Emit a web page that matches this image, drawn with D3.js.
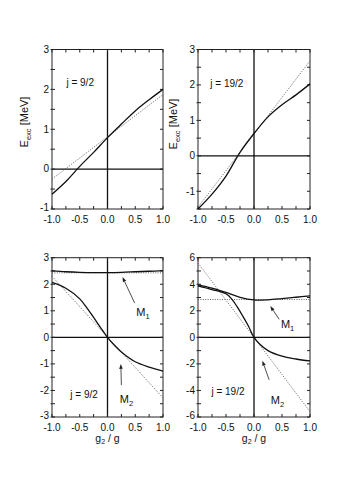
<!DOCTYPE html>
<html><head><meta charset="utf-8">
<script src="https://cdn.jsdelivr.net/npm/d3@7"></script>
<style>body{margin:0;background:#fff}svg{display:block}text{font-family:"Liberation Sans",Arial,sans-serif;fill:#111}</style>
</head><body><svg id="c" width="344" height="491"></svg>
<script>
// ---- data ----
const xs = [-1,-0.75,-0.5,-0.25,0,0.25,0.5,0.75,1];
const xTicks = [-1.0,-0.5,0.0,0.5,1.0];
// panel A: j = 9/2, top
const aSolid = [-0.63,-0.31,0.07,0.42,0.79,1.13,1.46,1.74,2.0];
const aDotX = [-1,1], aDot = [-0.25,1.87];
// panel B: j = 19/2, top
const bSolid = [-1.5,-1.08,-0.57,0.1,0.63,1.1,1.44,1.72,2.03];
const bDotX = [-1,1], bDot = [-1.45,2.68];
// panel C: j = 9/2, bottom
const cM1 = [2.50,2.47,2.45,2.44,2.44,2.45,2.47,2.49,2.51];
const cM1DotX = [-1,1], cM1Dot = [2.43,2.43];
const cM2X = [-1,-0.75,-0.5,-0.375,-0.25,-0.125,0,0.125,0.25,0.5,0.75,1];
const cM2 = [2.07,1.85,1.45,1.12,0.75,0.37,0,-0.3,-0.55,-0.92,-1.12,-1.27];
const cM2DotX = [-1,1], cM2Dot = [2.3,-2.28];
// panel D: j = 19/2, bottom
const dM1 = [3.95,3.7,3.38,3.02,2.82,2.83,2.92,3.02,3.12];
const dM1DotX = [-1,1], dM1Dot = [2.85,2.85];
const dM2X = [-1,-0.75,-0.5,-0.4,-0.3,-0.2,-0.1,0,0.1,0.25,0.5,0.75,1];
const dM2 = [3.88,3.6,3.28,2.9,2.3,1.6,0.85,0,-0.5,-1.0,-1.42,-1.63,-1.78];
const dM2DotX = [-1,1], dM2Dot = [5.6,-5.6];

const svg = d3.select('#c');
const FS = 10;

function panel(o){
  const x = d3.scaleLinear().domain([-1,1]).range(o.xr);
  const y = d3.scaleLinear().domain(o.yd).range(o.yr);
  const g = svg.append('g');
  // zero lines
  g.append('line').attr('x1',x(-1)).attr('x2',x(1)).attr('y1',y(0)).attr('y2',y(0)).attr('stroke','#111').attr('stroke-width',1.3);
  g.append('line').attr('x1',x(0)).attr('x2',x(0)).attr('y1',y(o.yd[0])).attr('y2',y(o.yd[1])).attr('stroke','#111').attr('stroke-width',1.3);
  // ticks
  const minorX = d3.range(-1,1.001,0.25);
  minorX.forEach(v=>{
    g.append('line').attr('x1',x(v)).attr('x2',x(v)).attr('y1',y(o.yd[1])).attr('y2',y(o.yd[1])+3).attr('stroke','#222').attr('stroke-width',1);
    g.append('line').attr('x1',x(v)).attr('x2',x(v)).attr('y1',y(o.yd[0])).attr('y2',y(o.yd[0])-3).attr('stroke','#222').attr('stroke-width',1);
  });
  const minorY = d3.range(o.yd[0],o.yd[1]+1e-6,o.ym);
  minorY.forEach(v=>{
    g.append('line').attr('x1',x(-1)-1.5).attr('x2',x(-1)+3).attr('y1',y(v)).attr('y2',y(v)).attr('stroke','#222').attr('stroke-width',1);
    g.append('line').attr('x1',x(1)).attr('x2',x(1)-3).attr('y1',y(v)).attr('y2',y(v)).attr('stroke','#222').attr('stroke-width',1);
  });
  // frame
  g.append('rect').attr('x',x(-1)).attr('y',y(o.yd[1])).attr('width',x(1)-x(-1)).attr('height',y(o.yd[0])-y(o.yd[1])).attr('fill','none').attr('stroke','#222').attr('stroke-width',1);
  // y labels
  o.yt.forEach(v=>{
    const off = (v===o.yd[0]) ? 1.5 : 3.3;
    g.append('text').attr('x',x(-1)-3).attr('y',y(v)+off).attr('text-anchor','end').attr('font-size',FS).text(v);
  });
  // x labels
  xTicks.forEach(v=>{
    g.append('text').attr('x',x(v)).attr('y',y(o.yd[0])+13.5).attr('text-anchor','middle').attr('font-size',FS).text(v.toFixed(1));
  });
  const line = d3.line().x(d=>x(d[0])).y(d=>y(d[1])).curve(d3.curveCatmullRom.alpha(0.5));
  o.dotted.forEach(s=>{
    g.append('path').attr('d',line(d3.zip(s[0],s[1]))).attr('fill','none').attr('stroke','#555').attr('stroke-width',0.9).attr('stroke-dasharray','1,1.4');
  });
  o.solid.forEach(s=>{
    g.append('path').attr('d',line(d3.zip(s[0],s[1]))).attr('fill','none').attr('stroke','#111').attr('stroke-width',1.3);
  });
  // j label
  g.append('text').attr('x',x(o.jl[0])).attr('y',y(o.jl[1])).attr('font-size',FS).text(o.jtext);
  // arrows & M labels
  (o.arrows||[]).forEach(a=>{
    const x1=x(a.from[0]), y1=y(a.from[1]), x2=x(a.to[0]), y2=y(a.to[1]);
    const ang=Math.atan2(y2-y1,x2-x1), L=5, W=1.8;
    const bx=x2-L*Math.cos(ang), by=y2-L*Math.sin(ang);
    g.append('line').attr('x1',x1).attr('y1',y1).attr('x2',bx).attr('y2',by).attr('stroke','#222').attr('stroke-width',0.8);
    g.append('path').attr('d',`M${x2},${y2}L${bx-W*Math.sin(ang)},${by+W*Math.cos(ang)}L${bx+W*Math.sin(ang)},${by-W*Math.cos(ang)}Z`).attr('fill','#222');
    const t=g.append('text').attr('x',x(a.lab[0])).attr('y',y(a.lab[1])).attr('font-size',11);
    t.append('tspan').text('M');
    t.append('tspan').attr('font-size',7.5).attr('dy',3).text(a.sub);
  });
  // y axis title
  if(o.ytitle){
    const t=g.append('text').attr('transform',`translate(${o.ytitle[0]},${o.ytitle[1]}) rotate(-90)`).attr('text-anchor','middle').attr('font-size',11);
    t.append('tspan').text('E');
    t.append('tspan').attr('font-size',7.5).attr('dy',3).text('exc');
    t.append('tspan').attr('dy',-3).text(' [MeV]');
  }
  if(o.xtitle){
    const t=g.append('text').attr('x',(x(-1)+x(1))/2).attr('y',y(o.yd[0])+24.5).attr('text-anchor','middle').attr('font-size',10.5);
    t.append('tspan').text('g');
    t.append('tspan').attr('font-size',7).attr('dy',2.5).text('2');
    t.append('tspan').attr('dy',-2.5).text(' / g');
  }
}

panel({xr:[52,163], yr:[209,49.5], yd:[-1,3], ym:0.5, yt:[-1,0,1,2,3],
  solid:[[xs,aSolid]], dotted:[[aDotX,aDot]], jl:[-0.74,2.08], jtext:'j = 9/2', ytitle:[28,122]});
panel({xr:[198,310], yr:[209,49.5], yd:[-1.5,3], ym:0.5, yt:[-1,0,1,2,3],
  solid:[[xs,bSolid]], dotted:[[bDotX,bDot]], jl:[-0.78,1.94], jtext:'j = 19/2', ytitle:[177,124]});
panel({xr:[52,163], yr:[417,257.7], yd:[-3,3], ym:0.5, yt:[-3,-2,-1,0,1,2,3],
  solid:[[xs,cM1],[cM2X,cM2]], dotted:[[cM1DotX,cM1Dot],[cM2DotX,cM2Dot]], jl:[-0.67,-2.27], jtext:'j = 9/2',
  arrows:[{from:[0.49,1.29],to:[0.27,2.27],lab:[0.52,0.81],sub:'1'},{from:[0.25,-1.8],to:[0.24,-1.0],lab:[0.22,-2.47],sub:'2'}],
  xtitle:true});
panel({xr:[198,310], yr:[417,257.7], yd:[-6,6], ym:1, yt:[-6,-4,-2,0,2,4,6],
  solid:[[xs,dM1],[dM2X,dM2]], dotted:[[dM1DotX,dM1Dot],[dM2DotX,dM2Dot]], jl:[-0.76,-4.35], jtext:'j = 19/2',
  arrows:[{from:[0.45,1.36],to:[0.29,2.36],lab:[0.48,0.7],sub:'1'},{from:[0.27,-3.2],to:[0.15,-1.76],lab:[0.3,-5.0],sub:'2'}],
  xtitle:true});
</script></body></html>
